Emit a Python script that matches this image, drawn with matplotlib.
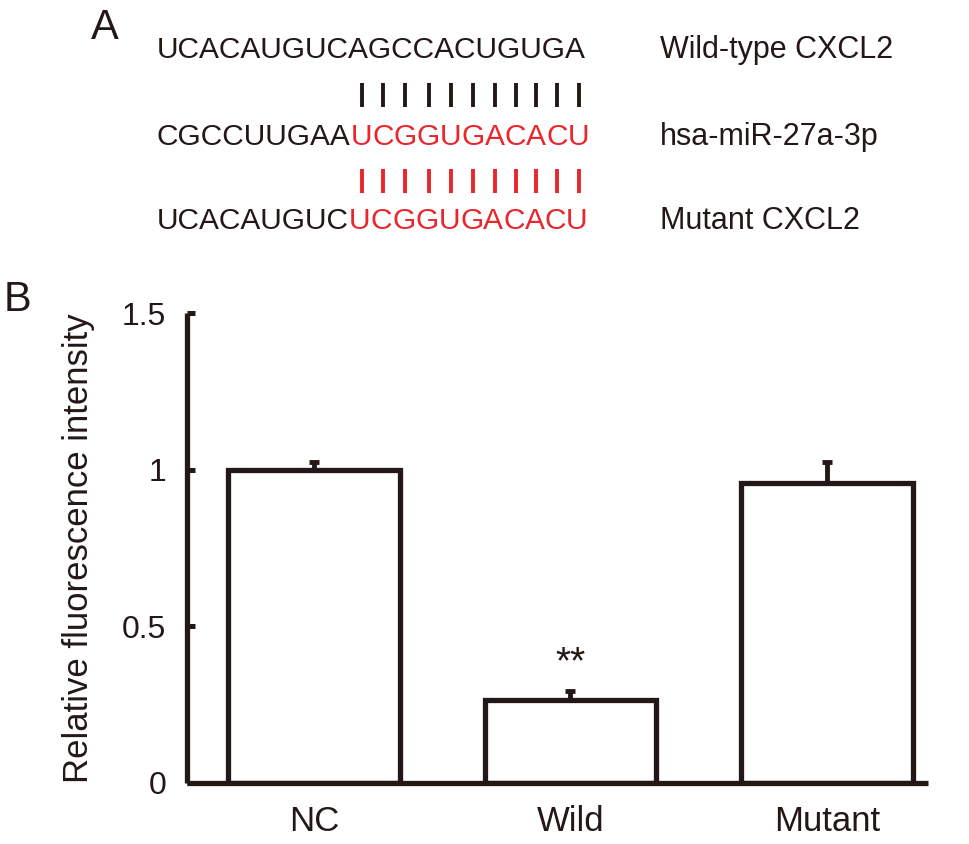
import matplotlib
matplotlib.use("Agg")
import matplotlib.pyplot as plt
from matplotlib.lines import Line2D

# panel A: sequences (black part, red part)
seq_rows = [
    ("UCACAUGUCAGCCACUGUGA", ""),
    ("CGCCUUGAA", "UCGGUGACACU"),
    ("UCACAUGUC", "UCGGUGACACU"),
]
seq_names = ["Wild-type CXCL2", "hsa-miR-27a-3p", "Mutant CXCL2"]

# panel B: bars
groups = ["NC", "Wild", "Mutant"]
values = [1.0, 0.265, 0.958]
errors = [0.025, 0.03, 0.065]
yticks = [0, 0.5, 1, 1.5]
ytick_labels = ["0", "0.5", "1", "1.5"]

INK = "#231816"
RED = "#e8262b"
W, H = 969, 844

plt.rcParams["font.family"] = ["Liberation Sans", "DejaVu Sans"]
fig = plt.figure(figsize=(W / 100, H / 100), dpi=100)
renderer = fig.canvas.get_renderer()

def fx(px):
    return px / W

def fy(py):
    return 1 - py / H

fs_seq = 21.5
row_y = [50, 137, 221]
pipe_y = [95, 181]
red_centers = []
for i, (black, red) in enumerate(seq_rows):
    t = fig.text(fx(157), fy(row_y[i]), black, fontsize=fs_seq, color=INK, va="center", ha="left")
    x_end = t.get_window_extent(renderer).x1
    centers = []
    for ch in red:
        c = fig.text(x_end / W, fy(row_y[i]), ch, fontsize=fs_seq, color=RED, va="center", ha="left")
        bb = c.get_window_extent(renderer)
        centers.append((bb.x0 + bb.x1) / 2)
        x_end = bb.x1
    if i == 1:
        red_centers = centers
    fig.text(fx(660), fy(row_y[i]), seq_names[i], fontsize=22, color=INK, va="center", ha="left")

# base-pairing ticks
for k, py in enumerate(pipe_y):
    col = INK if k == 0 else RED
    for cx in red_centers:
        fig.add_artist(Line2D([cx / W, cx / W], [fy(py - 12), fy(py + 12)],
                              transform=fig.transFigure, color=col, lw=2.8,
                              solid_capstyle="butt"))

fig.text(fx(91), fy(28), "A", fontsize=30, color=INK, va="center", ha="left")
fig.text(fx(4), fy(300), "B", fontsize=30, color=INK, va="center", ha="left")

# panel B
ax = fig.add_axes([fx(187), fy(783), fx(928) - fx(187), fy(313) - fy(783)])
x = list(range(len(groups)))
ax.bar(x, values, width=0.67, color="white", edgecolor=INK, linewidth=3.8, zorder=2)
ax.errorbar(x, values, yerr=[[0] * len(errors), errors], fmt="none", ecolor=INK,
            elinewidth=3.5, capsize=3.5, capthick=3.5, zorder=3)
ax.text(1, values[1] + errors[1] + 0.03, "**", ha="center", va="bottom", fontsize=28, color=INK)

ax.set_xlim(-0.495, 2.394)
ax.set_ylim(0, 1.5)
ax.set_xticks(x)
ax.set_xticklabels(groups, fontsize=25, color=INK)
ax.set_yticks(yticks)
ax.set_yticklabels(ytick_labels, fontsize=23, color=INK)
ax.tick_params(axis="x", length=0, pad=16)
ax.tick_params(axis="y", direction="in", length=6, width=3.6, color=INK, pad=15)
ax.set_ylabel("Relative fluorescence intensity", fontsize=25, color=INK, va="center")
ax.yaxis.set_label_coords(-0.146, 0.5)

for side in ["top", "right"]:
    ax.spines[side].set_visible(False)
for side in ["left", "bottom"]:
    ax.spines[side].set_linewidth(3.8)
    ax.spines[side].set_color(INK)
    ax.spines[side].set_capstyle("butt")

fig.savefig("out.png", dpi=100)
